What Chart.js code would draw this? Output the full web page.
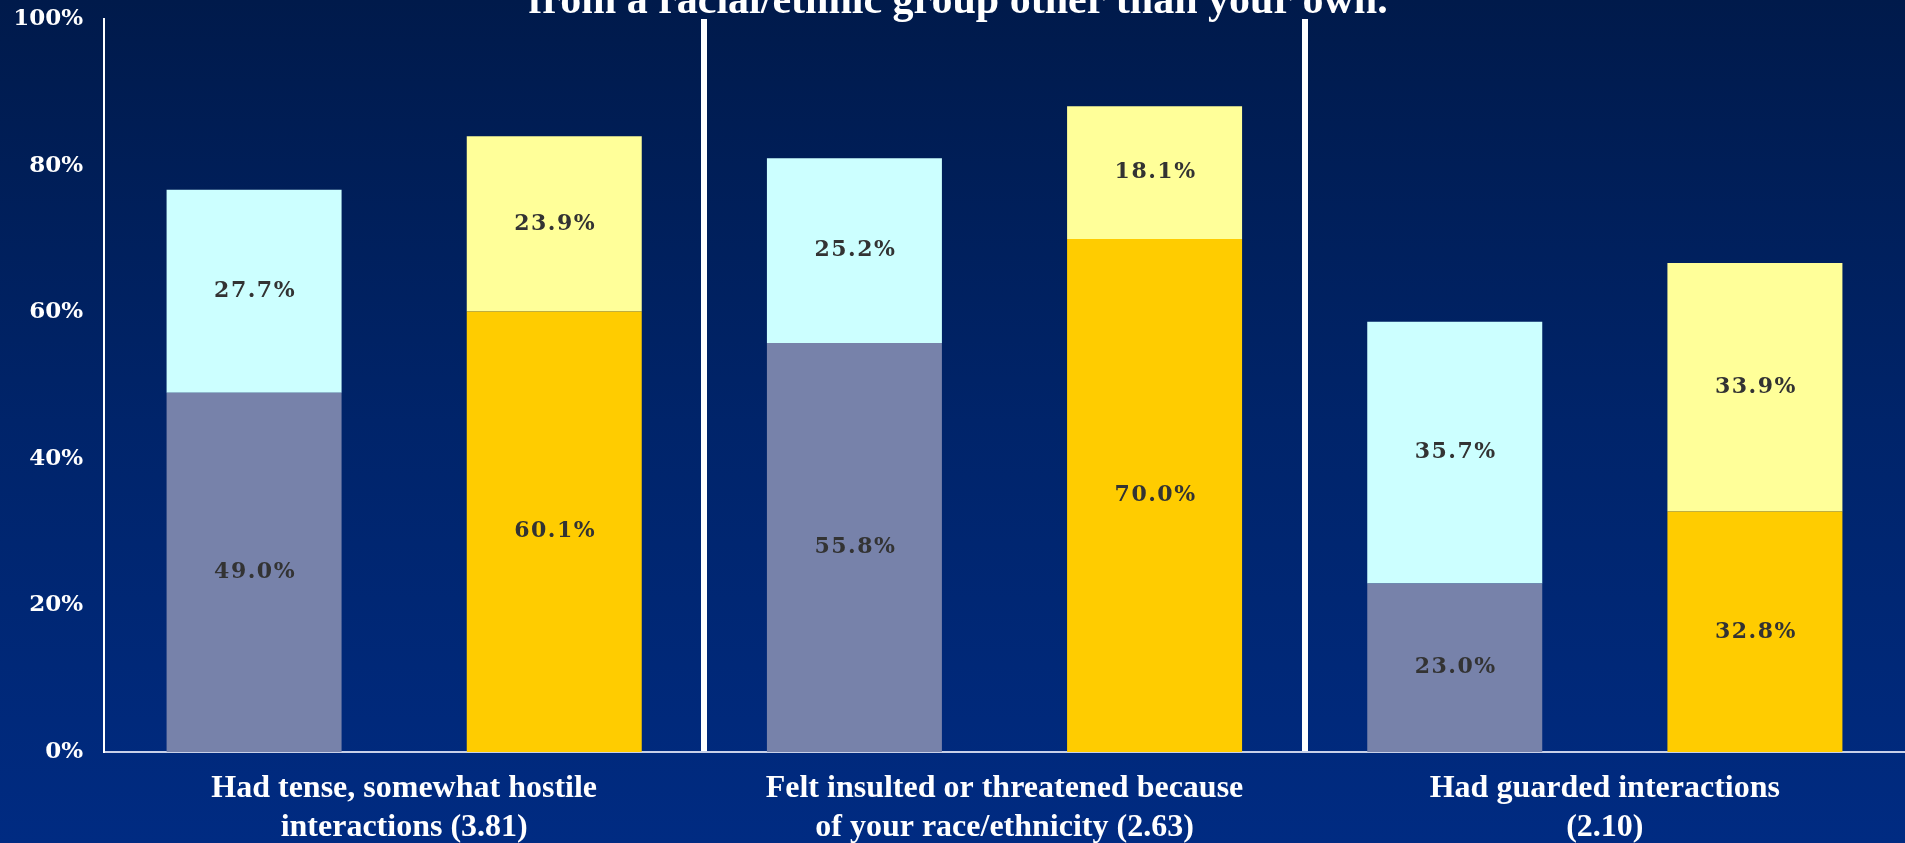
<!DOCTYPE html>
<html>
<head>
<meta charset="utf-8">
<script src="https://cdn.jsdelivr.net/npm/chart.js@4/dist/chart.umd.min.js"></script>
<style>
  html, body { margin: 0; padding: 0; overflow: hidden; }
  #wrap {
    width: 1905px; height: 843px; position: relative;
    background: linear-gradient(to bottom, #001a4b 0%, #00246a 50%, #002b82 100%);
  }
</style>
</head>
<body>
<div id="wrap"><canvas id="chart"></canvas></div>
<script>
// visible part of the slide title (first line is cut off above)
const titleLine = "from a racial/ethnic group other than your own.";

const categories = [
    ["Had tense, somewhat hostile", "interactions (3.81)"],
    ["Felt insulted or threatened because", "of your race/ethnicity (2.63)"],
    ["Had guarded interactions", "(2.10)"]
];

// left stack (blue-grey + light cyan), right stack (gold + light yellow)
const leftBase = [49.0, 55.8, 23.0];
const leftTop = [27.7, 25.2, 35.7];
const rightBase = [60.1, 70.0, 32.8];
const rightTop = [23.9, 18.1, 33.9];

const yTicks = [0, 20, 40, 60, 80, 100];

// values written in the middle of each segment
const segmentLabels = {
    id: "segmentLabels",
    afterDatasetsDraw(chart) {
        const ctx = chart.ctx;
        ctx.save();
        ctx.font = "bold 22px 'DejaVu Serif'";
        ctx.letterSpacing = "1.5px";
        ctx.fillStyle = "#333333";
        ctx.textAlign = "center";
        ctx.textBaseline = "middle";
        chart.data.datasets.forEach((ds, i) => {
            chart.getDatasetMeta(i).data.forEach((bar, j) => {
                const { x, y, base } = bar.getProps(["x", "y", "base"], true);
                ctx.fillText(ds.data[j].toFixed(1) + "%", x + 1, (y + base) / 2);
            });
        });
        ctx.restore();
    }
};

const slideTitle = {
    id: "slideTitle",
    afterDraw(chart) {
        const ctx = chart.ctx;
        ctx.save();
        ctx.font = "bold 42px 'Liberation Serif'";
        ctx.fillStyle = "#ffffff";
        ctx.textAlign = "center";
        ctx.textBaseline = "alphabetic";
        ctx.fillText(titleLine, 958, 13);
        ctx.restore();
    }
};

new Chart(document.getElementById("chart").getContext("2d"), {
    type: "bar",
    data: {
        labels: categories,
        datasets: [
            { data: leftBase, backgroundColor: "#7782aa", stack: "left" },
            { data: leftTop, backgroundColor: "#ccffff", stack: "left" },
            { data: rightBase, backgroundColor: "#ffcc00", stack: "right" },
            { data: rightTop, backgroundColor: "#ffff99", stack: "right" }
        ]
    },
    options: {
        responsive: true,
        maintainAspectRatio: false,
        animation: false,
        layout: { padding: { top: 19, right: 0, left: 0, bottom: 0 } },
        categoryPercentage: 1.0,
        barPercentage: 0.583,
        plugins: {
            legend: { display: false },
            tooltip: { enabled: false }
        },
        scales: {
            x: {
                stacked: true,
                grid: {
                    offset: true,
                    drawTicks: false,
                    color: "#ffffff",
                    lineWidth: c => (c.index === undefined || c.index === 0) ? 0 : 6
                },
                border: { display: true, color: "#c8d0e8", width: 2 },
                ticks: {
                    color: "#ffffff",
                    padding: 17,
                    maxRotation: 0,
                    autoSkip: false,
                    font: { family: "'Liberation Serif'", size: 32, weight: "bold", lineHeight: 1.22 }
                },
                afterFit: s => {
                    s.height = 91;
                    s.paddingLeft = 0;
                    s.paddingRight = 0;
                }
            },
            y: {
                stacked: true,
                min: 0,
                max: 100,
                afterBuildTicks: s => { s.ticks = yTicks.map(v => ({ value: v })); },
                grid: { display: false, drawTicks: false },
                border: { display: true, color: "#ffffff", width: 2 },
                ticks: {
                    color: "#ffffff",
                    padding: 21,
                    font: { family: "'DejaVu Serif'", size: 23, weight: "bold" },
                    callback: v => v + "%"
                },
                afterFit: s => {
                    s.width = 104;
                    s.paddingTop = 0;
                    s.paddingBottom = 0;
                }
            }
        }
    },
    plugins: [segmentLabels, slideTitle]
});
</script>
</body>
</html>
